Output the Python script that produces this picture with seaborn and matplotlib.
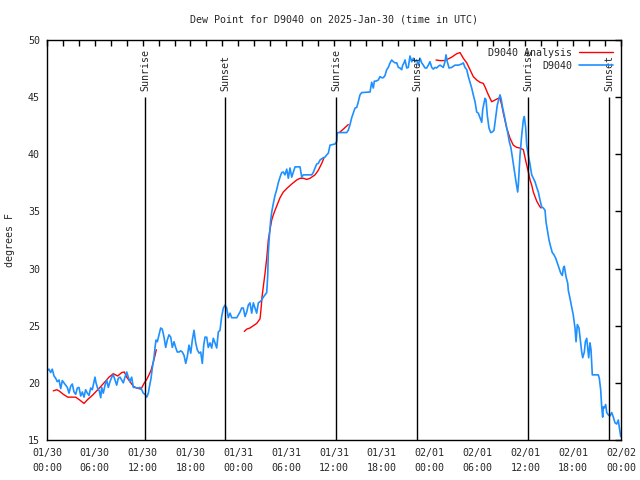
import pandas as pd
import matplotlib
matplotlib.use('Agg')
import matplotlib.pyplot as plt
import matplotlib.dates as mdates
from matplotlib.lines import Line2D
import seaborn as sns

START = pd.Timestamp('2025-01-30 00:00')

# observed dew point (hours since 01/30 00:00 UTC, deg F)
obs_hours = [0.0, 0.25, 0.46, 0.66, 0.88, 1.09, 1.29, 1.51, 1.72, 1.92, 2.13, 2.35, 2.55, 2.76,
             2.97, 3.17, 3.39, 3.60, 3.80, 4.01, 4.23, 4.43, 4.64, 4.85, 5.06, 5.27, 5.48, 5.68,
             5.90, 6.02, 6.15, 6.36, 6.56, 6.74, 6.86, 7.06, 7.28, 7.49, 7.69, 7.90, 8.12, 8.32,
             8.53, 8.74, 8.94, 9.16, 9.37, 9.57, 9.78, 10.0, 10.2, 10.41, 10.62, 10.83, 11.04,
             11.25, 11.45, 11.67, 11.88, 12.08, 12.29, 12.51, 12.71, 12.83, 13.05, 13.21, 13.42,
             13.55, 13.67, 13.84, 14.05, 14.26, 14.46, 14.68, 14.89, 15.09, 15.30, 15.52, 15.72,
             15.93, 16.14, 16.34, 16.56, 16.77, 16.97, 17.19, 17.40, 17.60, 17.81, 18.03, 18.23,
             18.44, 18.65, 18.85, 19.07, 19.28, 19.48, 19.66, 19.82, 20.03, 20.23, 20.45, 20.66,
             20.86, 21.07, 21.29, 21.49, 21.70, 21.91, 22.12, 22.33, 22.54, 22.74, 22.96, 23.17,
             23.80, 24.21, 24.42, 24.62, 24.84, 25.05, 25.25, 25.46, 25.68, 25.88, 26.09, 26.30,
             26.51, 26.72, 26.93, 27.13, 27.35, 27.56, 27.68, 27.76, 27.89, 28.06, 28.19, 28.39,
             28.60, 28.81, 29.01, 29.23, 29.44, 29.64, 29.85, 30.07, 30.27, 30.48, 30.70, 30.90,
             31.11, 31.74, 31.95, 32.15, 33.20, 33.40, 33.62, 33.83, 34.03, 34.25, 34.46, 34.66,
             34.87, 35.09, 35.29, 35.50, 36.13, 36.34, 36.42, 36.97, 37.59, 37.79, 38.01, 38.22,
             38.42, 38.64, 38.85, 39.05, 39.26, 39.48, 40.52, 40.73, 40.93, 41.06, 41.27, 41.56,
             41.77, 41.98, 42.19, 42.40, 42.61, 42.81, 43.03, 43.24, 43.44, 43.65, 43.87, 44.07,
             44.28, 44.49, 44.62, 44.78, 44.91, 45.12, 45.32, 45.53, 45.75, 45.95, 46.16, 46.37,
             46.58, 46.79, 47.00, 47.20, 47.42, 47.63, 47.83, 48.04, 48.26, 48.46, 48.67, 48.88,
             49.08, 49.30, 49.51, 49.71, 49.92, 50.05, 50.21, 50.43, 50.76, 51.18, 51.59, 52.02,
             52.22, 52.43, 52.65, 52.85, 53.06, 53.27, 53.47, 53.69, 53.90, 54.10, 54.31, 54.53,
             54.65, 54.82, 54.94, 55.07, 55.23, 55.44, 55.66, 55.86, 56.07, 56.28, 56.48, 56.70,
             56.82, 56.95, 57.16, 57.36, 57.58, 57.79, 57.99, 58.20, 58.42, 58.62, 58.83, 59.04,
             59.12, 59.33, 59.55, 59.75, 59.87, 60.05, 60.17, 60.38, 60.59, 60.80, 61.00, 61.21,
             61.43, 61.63, 61.84, 62.05, 62.26, 62.47, 62.59, 62.76, 62.97, 63.18, 63.38, 63.60,
             63.81, 64.01, 64.22, 64.44, 64.64, 64.77, 64.89, 65.10, 65.32, 65.39, 65.60, 65.82,
             66.02, 66.23, 66.36, 66.52, 66.73, 66.86, 67.07, 67.20, 67.40, 67.53, 67.70, 67.82,
             67.95, 68.11, 68.24, 68.40, 69.15, 69.28, 69.45, 69.58, 69.70, 69.78, 69.91, 70.08,
             70.21, 70.41, 70.62, 70.84, 71.04, 71.25, 71.46, 71.66, 71.79, 71.97]
obs_dewpt = [21.06, 21.2, 20.9, 21.2, 20.6, 20.4, 20.1, 20.25, 19.5, 20.2, 20.0, 19.8, 19.6, 19.1,
             19.7, 19.9, 19.2, 19.0, 19.55, 19.6, 18.85, 19.2, 18.75, 19.4, 19.1, 18.9, 19.55, 19.4,
             20.1, 20.5, 20.0, 19.5, 19.3, 18.7, 19.6, 19.1, 19.8, 20.25, 19.6, 20.1, 20.5, 20.7,
             20.25, 19.8, 20.4, 20.5, 20.25, 20.0, 20.5, 20.95, 20.5, 20.1, 20.5, 19.6, 19.6,
             19.55, 19.55, 19.6, 19.4, 19.1, 19.0, 18.75, 19.1, 19.6, 20.4, 21.3, 22.2,
             23.1, 23.75, 23.6, 24.2, 24.8, 24.7, 24.0, 23.1, 23.75, 24.2, 24.0, 23.1,
             23.6, 23.1, 22.7, 22.7, 22.8, 22.7, 22.4, 21.7, 22.3, 23.3, 22.6, 23.75,
             24.6, 23.5, 22.9, 22.6, 22.7, 21.7, 23.3, 24.0, 24.0, 23.1, 23.5, 23.05,
             23.9, 23.5, 23.05, 24.45, 24.6, 25.8, 26.55, 26.8, 26.55, 25.7, 26.1, 25.7,
             25.7, 26.2, 26.55, 26.55, 25.8, 26.2, 26.8, 27.0, 26.1, 27.0, 26.55, 26.1,
             27.0, 27.1, 27.25, 27.5, 27.7, 27.9, 29.3, 31.4, 32.8, 34.25, 34.95, 35.7,
             36.4, 36.9, 37.5, 38.0, 38.4, 38.45, 38.2, 38.7, 37.9, 38.8, 38.0, 38.45,
             38.9, 38.9, 38.0, 38.2, 38.2, 38.4, 38.8, 39.15, 39.2, 39.5, 39.6, 39.7,
             39.75, 39.95, 40.1, 40.8, 40.9, 41.1, 41.9, 41.9, 41.9, 42.1, 42.6, 43.2,
             43.6, 44.05, 44.1, 44.6, 45.2, 45.4, 45.45, 46.3, 45.8, 46.4, 46.4, 46.5,
             46.8, 46.7, 46.7, 46.9, 47.4, 47.6, 48.0, 48.25, 48.1, 48.0, 48.0, 47.6,
             47.55, 47.4, 47.8, 48.0, 48.25, 47.55, 47.6, 48.6, 48.1, 48.4, 48.1, 48.25,
             47.8, 48.4, 48.0, 47.8, 47.55, 47.55, 47.8, 48.1, 47.6, 47.45, 47.6, 47.55,
             47.7, 47.8, 47.7, 47.6, 48.1, 48.7, 48.1, 47.55, 47.6, 47.8, 47.8, 47.9,
             48.0, 47.6, 47.4, 46.8, 46.3, 45.8, 45.2, 44.6, 43.7, 43.6, 43.2, 42.8,
             43.9, 44.5, 44.9, 44.75, 43.4, 42.3, 41.9, 41.95, 42.1, 43.2, 44.3, 44.9,
             45.2, 44.9, 44.05, 43.4, 42.6, 41.9, 41.1, 40.55, 39.5, 38.6, 37.6, 36.7,
             37.3, 39.9, 41.7, 43.0, 43.3, 42.3, 40.8, 39.9, 39.1, 38.2, 37.9, 37.6,
             37.1, 36.7, 36.0, 35.4, 35.3, 35.1, 34.1, 33.4, 32.5, 31.9, 31.4, 31.2,
             30.9, 30.5, 30.05, 29.6, 29.4, 30.05, 30.2, 29.3, 28.7, 28.1, 27.4, 26.6,
             25.9, 24.8, 23.6, 25.1, 24.8, 24.0, 22.7, 22.2, 22.7, 23.6, 23.9, 23.05,
             22.2, 23.5, 22.9, 20.7, 20.7, 20.4, 19.4, 17.9, 17.0, 17.9, 17.8, 18.1,
             17.4, 17.2, 17.1, 17.4, 17.0, 16.5, 16.4, 16.75, 16.1, 15.3]

# analysis dew point, in separate pieces (gaps between them)
ana_hours = [0.79, 1.22, 1.51, 2.04, 2.60, 3.10, 3.60, 4.10, 4.64, 5.18, 5.68, 6.23, 6.77, 7.28,
             7.78, 8.32, 8.87, 9.37, 9.70, 10.0, 10.41, 10.83, 11.25, 11.79, 12.21, 12.51, 12.79,
             13.05, 13.33, 13.55, 13.71,
             24.75, 25.05, 25.46, 25.88, 26.30, 26.72, 26.84, 26.97, 27.13, 27.35, 27.56, 27.76,
             27.97, 28.19, 28.39, 28.60, 28.89, 29.23, 29.64, 30.14, 30.70, 31.32, 31.74, 32.15,
             32.58, 32.99, 33.62, 34.03, 34.46, 34.75,
             36.75, 37.17, 37.79,
             48.80, 49.30, 49.92, 50.34, 50.76, 51.39, 51.81, 52.22, 52.65, 53.06, 53.47, 53.90,
             54.31, 54.73, 54.94, 55.36, 55.78, 56.20, 56.61, 56.82, 57.04, 57.24, 57.66, 58.08,
             58.49, 58.92, 59.33, 59.75, 60.09, 60.38, 60.59, 60.80, 61.00, 61.21, 61.43, 61.63,
             61.84, 61.97]
ana_dewpt = [19.3, 19.4, 19.3, 19.0, 18.75, 18.75, 18.75, 18.5, 18.2, 18.6, 18.9, 19.3, 19.7, 20.1,
             20.5, 20.8, 20.6, 20.9, 20.95, 20.5, 20.1, 19.7, 19.55, 19.45, 20.0, 20.3, 20.7,
             21.1, 21.8, 22.4, 22.9,
             24.5, 24.7, 24.8, 25.0, 25.2, 25.6, 26.4, 27.5, 28.4, 29.6, 30.9, 32.5,
             33.4, 34.25, 34.7, 35.1, 35.6, 36.2, 36.7, 37.05, 37.4, 37.75, 37.9, 37.9,
             37.8, 37.9, 38.2, 38.6, 39.2, 39.7,
             41.95, 42.2, 42.6,
             48.25, 48.2, 48.2, 48.35, 48.5, 48.8, 48.9, 48.4, 48.0, 47.4, 46.8, 46.5,
             46.3, 46.2, 45.9, 45.2, 44.6, 44.75, 44.9, 44.9, 44.3, 43.6, 42.3, 41.4,
             40.8, 40.6, 40.55, 40.4, 39.3, 38.45, 37.75, 37.3, 36.7, 36.3, 35.9, 35.65,
             35.4, 35.3]
ana_piece = [1] * 31 + [2] * 30 + [3] * 3 + [4] * 38

event_hours = [12.35, 22.37, 36.27, 46.43, 60.36, 70.5]
event_labels = ['Sunrise', 'Sunset', 'Sunrise', 'Sunset', 'Sunrise', 'Sunset']

obs_df = pd.DataFrame({'time': START + pd.to_timedelta(obs_hours, unit='h'), 'dewpt': obs_dewpt})
ana_df = pd.DataFrame({'time': START + pd.to_timedelta(ana_hours, unit='h'), 'dewpt': ana_dewpt,
                       'piece': ana_piece})
event_times = START + pd.to_timedelta(event_hours, unit='h')

sns.set_style('white')
plt.rcParams['font.family'] = ['DejaVu Sans Mono']
FS = 7.2

fig = plt.figure(figsize=(6.4, 4.8), dpi=100)
ax = fig.add_axes([47 / 640, 40 / 480, 574 / 640, 400 / 480])

sns.lineplot(data=ana_df, x='time', y='dewpt', units='piece', estimator=None,
             color='red', lw=1.0, ax=ax, legend=False)
sns.lineplot(data=obs_df, x='time', y='dewpt', estimator=None,
             color='#1e90ff', lw=1.2, ax=ax, legend=False)

ax.vlines(event_times, 15, 45, color='black', lw=1.0)
for t, lab in zip(event_times, event_labels):
    ax.text(t, 45.5, lab, rotation=90, ha='center', va='bottom', fontsize=FS)

ax.set_xlim(START, START + pd.Timedelta(hours=72))
ax.set_ylim(15, 50)
ax.set_yticks(range(15, 51, 5))
ax.xaxis.set_major_locator(mdates.HourLocator(byhour=[0, 6, 12, 18]))
ax.xaxis.set_major_formatter(mdates.DateFormatter('%m/%d\n%H:%M'))
ax.xaxis.set_minor_locator(mdates.HourLocator(interval=2))
ax.tick_params(which='both', direction='in', top=True, right=True, length=4,
               width=1, color='black', labelsize=FS)
ax.tick_params(axis='x', pad=6)
ax.tick_params(axis='y', pad=5)
for lbl in ax.get_xticklabels():
    lbl.set_linespacing(1.6)
for s in ax.spines.values():
    s.set_color('black')
    s.set_linewidth(1.0)

ax.set_xlabel('')
ax.set_ylabel('')
fig.text(10 / 640, 0.5, 'degrees F', rotation=90, ha='center', va='center', fontsize=FS)
fig.text(334 / 640, 1 - 19 / 480, 'Dew Point for D9040 on 2025-Jan-30 (time in UTC)',
         ha='center', va='center', fontsize=FS)

handles = [Line2D([], [], color='red', lw=1.0), Line2D([], [], color='#1e90ff', lw=1.2)]
ax.legend(handles, ['D9040 Analysis', 'D9040'], loc='upper right', frameon=False,
          markerfirst=False, fontsize=FS, handlelength=3.4, handletextpad=0.7,
          borderaxespad=0.6, labelspacing=0.3, borderpad=0.2)

fig.savefig('out.png', dpi=100)
